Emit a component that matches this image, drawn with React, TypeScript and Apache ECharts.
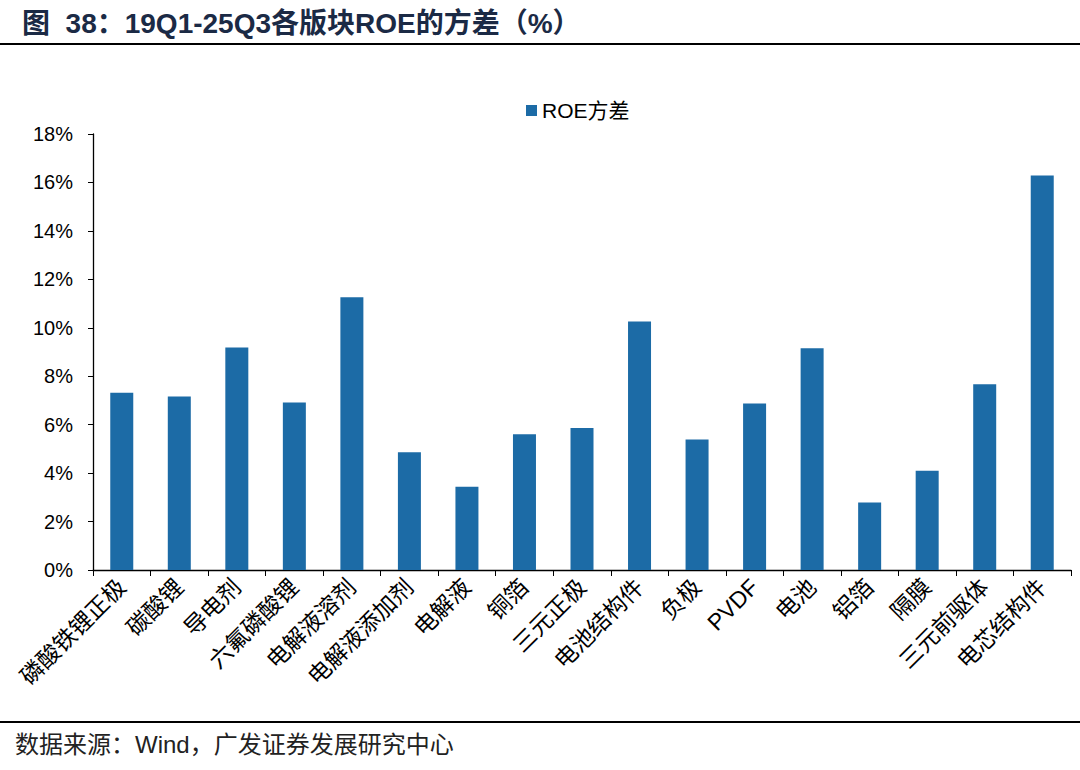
import React, { useEffect, useRef } from "react";
import * as echarts from "echarts";

const categories = [
  "磷酸铁锂正极", "碳酸锂", "导电剂", "六氟磷酸锂", "电解液溶剂", "电解液添加剂",
  "电解液", "铜箔", "三元正极", "电池结构件", "负极", "PVDF", "电池", "铝箔",
  "隔膜", "三元前驱体", "电芯结构件",
];
const roeVariance = [
  7.32, 7.16, 9.19, 6.92, 11.26, 4.86, 3.44, 5.6, 5.86, 10.26, 5.39, 6.87, 9.15,
  2.79, 4.1, 7.67, 16.29,
];
const seriesName = "ROE方差";
const titleText = "图  38：19Q1-25Q3各版块ROE的方差（%）";
const sourceText = "数据来源：Wind，广发证券发展研究中心";

const FONT = "'Liberation Sans', Arial, 'Noto Sans CJK SC', sans-serif";

export default function App() {
  const ref = useRef<HTMLDivElement>(null);
  useEffect(() => {
    if (!ref.current) return;
    const chart = echarts.init(ref.current, undefined, { renderer: "svg" });
    chart.setOption({
      animation: false,
      backgroundColor: "#ffffff",
      title: {
        text: titleText,
        left: 17,
        top: 4,
        textStyle: { fontFamily: FONT, fontSize: 28, fontWeight: "bold", color: "#1b2a45" },
      },
      legend: {
        data: [seriesName],
        left: 521,
        top: 95,
        itemWidth: 11,
        itemHeight: 11,
        itemGap: 4,
        icon: "rect",
        textStyle: { fontFamily: FONT, fontSize: 21, color: "#000" },
      },
      grid: { left: 93, right: 9, top: 134, bottom: 200, containLabel: false },
      xAxis: {
        type: "category",
        data: categories,
        axisLine: { lineStyle: { color: "#000", width: 1.3 } },
        axisTick: { show: true, length: 6, alignWithLabel: false, lineStyle: { color: "#000" } },
        axisLabel: {
          rotate: 45,
          interval: 0,
          margin: 13,
          fontFamily: FONT,
          fontSize: 23,
          color: "#000",
        },
      },
      yAxis: {
        type: "value",
        min: 0,
        max: 18,
        interval: 2,
        axisLine: { show: true, lineStyle: { color: "#000", width: 1.3 } },
        axisTick: { show: true, length: 5, lineStyle: { color: "#000" } },
        splitLine: { show: false },
        axisLabel: {
          formatter: "{value}%",
          margin: 20,
          fontFamily: FONT,
          fontSize: 20,
          color: "#000",
        },
      },
      series: [
        {
          name: seriesName,
          type: "bar",
          data: roeVariance,
          barWidth: 23,
          itemStyle: { color: "#1c6ba6" },
        },
      ],
      graphic: [
        {
          type: "line",
          shape: { x1: 0, y1: 44, x2: 1080, y2: 44 },
          style: { stroke: "#000", lineWidth: 2 },
        },
        {
          type: "line",
          shape: { x1: 0, y1: 722, x2: 1080, y2: 722 },
          style: { stroke: "#000", lineWidth: 2 },
        },
        {
          type: "text",
          left: 15,
          top: 732,
          style: {
            text: sourceText,
            fontFamily: FONT,
            fontSize: 24,
            fill: "#222",
          },
        },
      ],
    });
    return () => chart.dispose();
  }, []);
  return (
    <div
      ref={ref}
      style={{ position: "fixed", left: 0, top: 0, width: 1080, height: 770, background: "#fff" }}
    />
  );
}
